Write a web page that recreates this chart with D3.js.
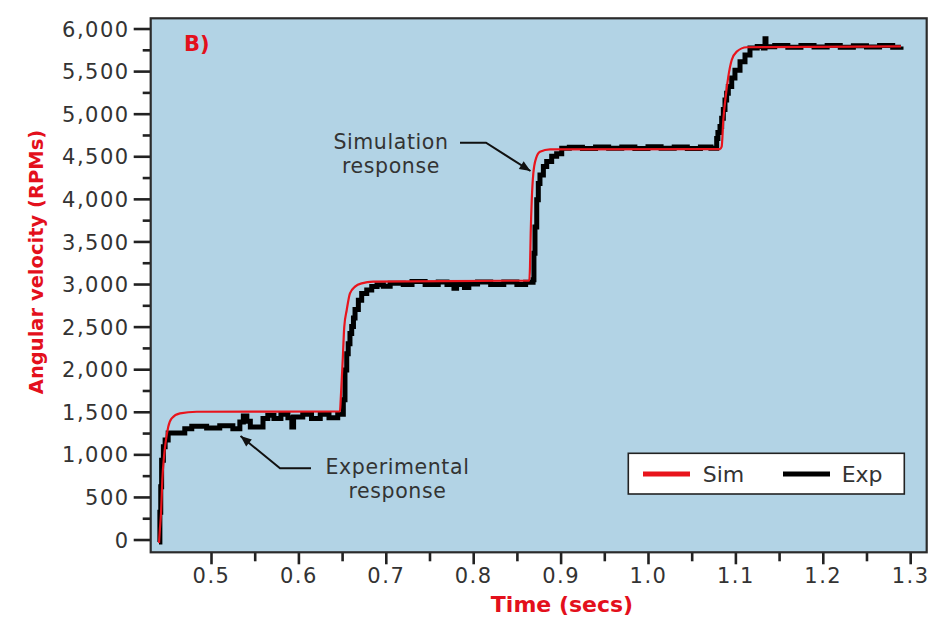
<!DOCTYPE html>
<html>
<head>
<meta charset="utf-8">
<script src="https://cdn.jsdelivr.net/npm/d3@7"></script>
<style>
  html, body { margin: 0; padding: 0; background: #ffffff; }
  svg { display: block; }
</style>
</head>
<body>
<svg id="chart" width="931" height="619"></svg>
<script>
// Simulated speed response (red)
const simTime = [0.4405, 0.4415, 0.4428, 0.4443, 0.4462, 0.4482, 0.4511, 0.4550, 0.4645, 0.4836,
  0.6476, 0.6484, 0.6507, 0.6525, 0.6553, 0.6590, 0.6648, 0.6724, 0.6857,
  0.8642, 0.8650, 0.8658, 0.8670, 0.8688, 0.8719, 0.8764, 0.8879,
  1.0824, 1.0843, 1.0862, 1.0889, 1.0919, 1.0958, 1.1015, 1.1129, 1.2895];
const simRpm = [-40, 120, 310, 700, 970, 1150, 1325, 1423, 1482, 1500,
  1505, 1640, 2108, 2499, 2695, 2891, 2969, 3008, 3027,
  3040, 3203, 3595, 3986, 4300, 4476, 4553, 4582,
  4585, 4613, 4926, 5200, 5435, 5630, 5728, 5780, 5790];

// Measured speed response (black), sampled encoder readings
const expTime = [0.4405, 0.4415, 0.4425, 0.4435, 0.4455, 0.4475, 0.4510, 0.4700, 0.4780, 0.4950,
  0.5100, 0.5250, 0.5330, 0.5370, 0.5410, 0.5450, 0.5595, 0.5650, 0.5720, 0.5800,
  0.5880, 0.5925, 0.5945, 0.6050, 0.6150, 0.6250, 0.6350, 0.6450,
  0.6514, 0.6533, 0.6553, 0.6570, 0.6590, 0.6610, 0.6630, 0.6648, 0.6686, 0.6724,
  0.6782, 0.6839, 0.6900, 0.6972, 0.7050, 0.7200, 0.7300, 0.7450, 0.7600, 0.7700,
  0.7780, 0.7810, 0.7900, 0.7950, 0.8050, 0.8200, 0.8350, 0.8500, 0.8600,
  0.8685, 0.8695, 0.8707, 0.8727, 0.8745, 0.8764, 0.8803, 0.8841, 0.8898, 0.8955, 0.9013,
  0.9100, 0.9250, 0.9400, 0.9550, 0.9700, 0.9850, 1.0000, 1.0150, 1.0300, 1.0450, 1.0600, 1.0720,
  1.0786, 1.0800, 1.0824, 1.0843, 1.0862, 1.0881, 1.0900, 1.0919, 1.0958, 1.0995,
  1.1053, 1.1110, 1.1167, 1.1250, 1.1320, 1.1339, 1.1350, 1.1450, 1.1600, 1.1750,
  1.1900, 1.2050, 1.2200, 1.2350, 1.2500, 1.2650, 1.2800, 1.2895];
const expRpm = [-30, 320, 620, 930, 1090, 1170, 1250, 1300, 1330, 1310,
  1335, 1300, 1380, 1450, 1390, 1320, 1420, 1460, 1420, 1470,
  1430, 1320, 1440, 1470, 1420, 1470, 1430, 1470,
  1640, 1990, 2180, 2300, 2420, 2500, 2600, 2700, 2810, 2890,
  2930, 2970, 2990, 2975, 3010, 2995, 3030, 2995, 3025, 2995,
  2950, 2995, 2960, 3000, 3025, 2995, 3025, 2995, 3020,
  3050, 3360, 3670, 3990, 4180, 4280, 4380, 4440, 4500, 4530, 4595,
  4605, 4590, 4610, 4595, 4610, 4592, 4612, 4595, 4610, 4592, 4610, 4595,
  4710, 4780, 4850, 4945, 5050, 5160, 5240, 5320, 5420, 5510,
  5610, 5690, 5770, 5790, 5770, 5880, 5785, 5800, 5780, 5800,
  5782, 5800, 5780, 5798, 5782, 5800, 5780, 5790];

const xMajor = [0.5, 0.6, 0.7, 0.8, 0.9, 1.0, 1.1, 1.2, 1.3];
const xMinor = [0.55, 0.65, 0.75, 0.85, 0.95, 1.05, 1.15, 1.25];
const yMajor = [0, 500, 1000, 1500, 2000, 2500, 3000, 3500, 4000, 4500, 5000, 5500, 6000];
const yMinor = [250, 750, 1250, 1750, 2250, 2750, 3250, 3750, 4250, 4750, 5250, 5750];

const seriesNames = ["Sim", "Exp"];
const seriesColors = ["#e8141c", "#000000"];

const svg = d3.select("#chart");
const plotLeft = 150.7, plotRight = 926.7, plotTop = 18.3, plotBottom = 552.3;

const x = d3.scaleLinear().domain([0.431, 1.3189]).range([plotLeft, plotRight]);
const y = d3.scaleLinear().domain([-150, 6120]).range([plotBottom, plotTop]);

// plot background
svg.append("rect")
  .attr("x", plotLeft).attr("y", plotTop)
  .attr("width", plotRight - plotLeft).attr("height", plotBottom - plotTop)
  .attr("fill", "#b2d3e5");

svg.append("clipPath").attr("id", "plotClip")
  .append("rect")
  .attr("x", plotLeft).attr("y", plotTop)
  .attr("width", plotRight - plotLeft).attr("height", plotBottom - plotTop);

const tickFont = "'DejaVu Sans', sans-serif";

// y axis
const yAxis = svg.append("g").attr("transform", `translate(${plotLeft},0)`)
  .call(d3.axisLeft(y).tickValues(yMajor).tickSize(17).tickPadding(4).tickFormat(d3.format(",")));
const yAxisMinor = svg.append("g").attr("transform", `translate(${plotLeft},0)`)
  .call(d3.axisLeft(y).tickValues(yMinor).tickSize(8).tickFormat(""));

// x axis
const xAxis = svg.append("g").attr("transform", `translate(0,${plotBottom})`)
  .call(d3.axisBottom(x).tickValues(xMajor).tickSize(12).tickFormat(d3.format(".1f")));
const xAxisMinor = svg.append("g").attr("transform", `translate(0,${plotBottom})`)
  .call(d3.axisBottom(x).tickValues(xMinor).tickSize(9).tickFormat(""));

[yAxis, yAxisMinor, xAxis, xAxisMinor].forEach(g => {
  g.select(".domain").remove();
  g.selectAll(".tick line").attr("stroke", "#222").attr("stroke-width", 2.6);
  g.selectAll("text")
    .attr("fill", "#333")
    .style("font-family", tickFont)
    .style("font-size", "21px")
    .style("letter-spacing", "1.5px");
});
yAxis.selectAll("text").attr("dy", "0.36em");
xAxis.selectAll("text").attr("y", 31).attr("dy", 0);

// data lines
const plot = svg.append("g").attr("clip-path", "url(#plotClip)");

const expData = expTime.map((t, i) => [t, expRpm[i]]);
const simData = simTime.map((t, i) => [t, simRpm[i]]);

plot.append("path")
  .datum(expData)
  .attr("fill", "none")
  .attr("stroke", seriesColors[1])
  .attr("stroke-width", 5)
  .attr("d", d3.line().x(d => x(d[0])).y(d => y(d[1])).curve(d3.curveStepAfter));

plot.append("path")
  .datum(simData)
  .attr("fill", "none")
  .attr("stroke", seriesColors[0])
  .attr("stroke-width", 2.2)
  .attr("d", d3.line().x(d => x(d[0])).y(d => y(d[1])).curve(d3.curveMonotoneX));

// plot frame
svg.append("rect")
  .attr("x", plotLeft).attr("y", plotTop)
  .attr("width", plotRight - plotLeft).attr("height", plotBottom - plotTop)
  .attr("fill", "none")
  .attr("stroke", "#2b2b2b")
  .attr("stroke-width", 2.2);

// panel tag
svg.append("text")
  .attr("x", 184).attr("y", 51)
  .attr("fill", "#e3101c")
  .style("font-family", "'DejaVu Sans', sans-serif")
  .style("font-weight", "bold")
  .style("font-size", "21px")
  .text("B)");

// axis titles
svg.append("text")
  .attr("x", 562).attr("y", 612)
  .attr("text-anchor", "middle")
  .attr("fill", "#e3101c")
  .style("font-family", "'DejaVu Sans', sans-serif")
  .style("font-weight", "bold")
  .style("font-size", "22px")
  .text("Time (secs)");

svg.append("text")
  .attr("transform", "translate(43,262) rotate(-90)")
  .attr("text-anchor", "middle")
  .attr("fill", "#e3101c")
  .style("font-family", "'DejaVu Sans', sans-serif")
  .style("font-weight", "bold")
  .style("font-size", "19.5px")
  .text("Angular velocity (RPMs)");

// annotations
const annFont = "'DejaVu Sans', sans-serif";
function arrow(points) {
  svg.append("path")
    .attr("d", d3.line()(points))
    .attr("fill", "none")
    .attr("stroke", "#111")
    .attr("stroke-width", 2);
  const [p, q] = [points[points.length - 2], points[points.length - 1]];
  const ang = Math.atan2(q[1] - p[1], q[0] - p[0]);
  const len = 11, half = 4.5;
  const bx = q[0] - len * Math.cos(ang), by = q[1] - len * Math.sin(ang);
  const nx = -Math.sin(ang) * half, ny = Math.cos(ang) * half;
  svg.append("path")
    .attr("d", `M${q[0]},${q[1]}L${bx + nx},${by + ny}L${bx - nx},${by - ny}Z`)
    .attr("fill", "#111");
}

function label(lines, cx, baselines) {
  lines.forEach((s, i) => {
    svg.append("text")
      .attr("x", cx).attr("y", baselines[i])
      .attr("text-anchor", "middle")
      .attr("fill", "#333")
      .style("font-family", annFont)
      .style("font-size", "20.5px")
      .style("letter-spacing", "0.6px")
      .text(s);
  });
}

label(["Simulation", "response"], 391, [148.5, 173]);
arrow([[460, 142.7], [486, 142.7], [530.5, 171]]);

label(["Experimental", "response"], 397.5, [473.5, 498]);
arrow([[311, 468.3], [280, 468.3], [240.5, 436]]);

// legend
const lg = svg.append("g");
lg.append("rect")
  .attr("x", 628.3).attr("y", 453.3)
  .attr("width", 276).attr("height", 40.7)
  .attr("fill", "#ffffff")
  .attr("stroke", "#222")
  .attr("stroke-width", 1.6);
const legendItems = [
  { name: seriesNames[0], color: seriesColors[0], x0: 643, x1: 690, tx: 702.7 },
  { name: seriesNames[1], color: seriesColors[1], x0: 783, x1: 830, tx: 841.7 }
];
legendItems.forEach(d => {
  lg.append("line")
    .attr("x1", d.x0).attr("x2", d.x1)
    .attr("y1", 474).attr("y2", 474)
    .attr("stroke", d.color)
    .attr("stroke-width", 5);
  lg.append("text")
    .attr("x", d.tx).attr("y", 482)
    .attr("fill", "#333")
    .style("font-family", annFont)
    .style("font-size", "22px")
    .text(d.name);
});
</script>
</body>
</html>
